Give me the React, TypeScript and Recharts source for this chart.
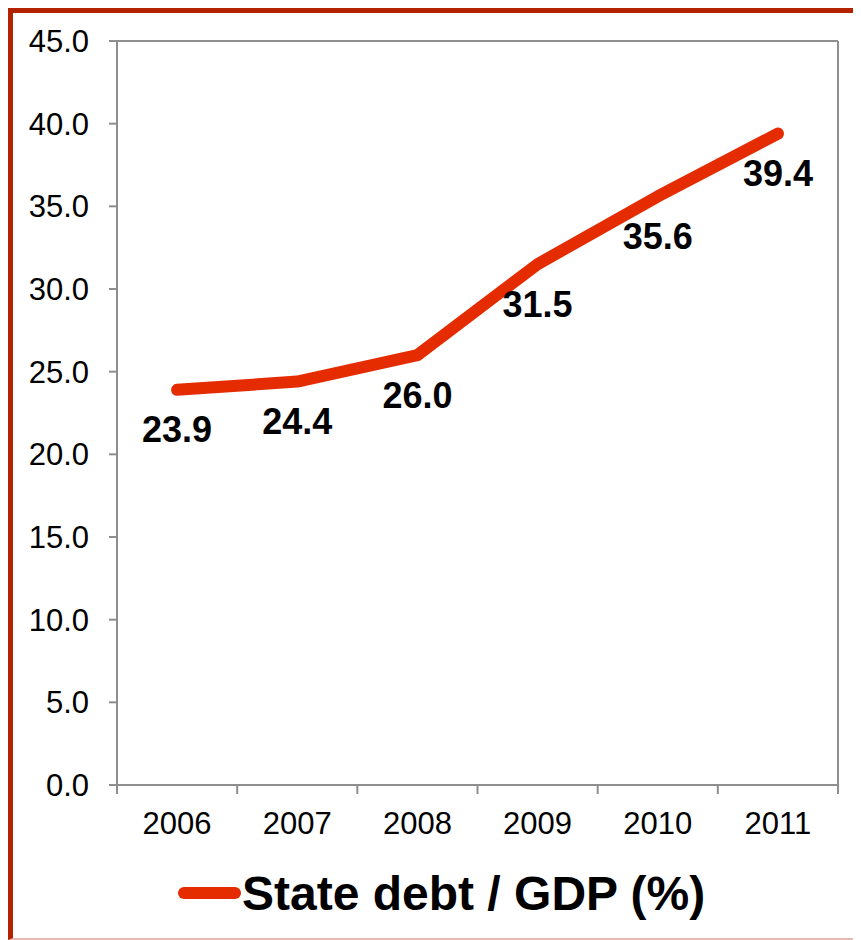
import React from 'react';
import { LineChart, Line, XAxis, YAxis, CartesianGrid, LabelList, Legend } from 'recharts';

const years = ['2006', '2007', '2008', '2009', '2010', '2011'];
const debtToGdp = [23.9, 24.4, 26.0, 31.5, 35.6, 39.4];
const yTicks = [0, 5, 10, 15, 20, 25, 30, 35, 40, 45];
const seriesName = 'State debt / GDP (%)';

const data = years.map((year, i) => ({ year, debt: debtToGdp[i] }));

const GRID = '#8e8e8e';
const LINE = '#e52b00';
const FONT = '"Liberation Sans", Arial, Helvetica, sans-serif';

function XTick(props: any) {
  const { x, y, payload, index, visibleTicksCount } = props;
  const half = payload && typeof payload.offset === 'number' && payload.offset > 0 ? payload.offset : 60;
  const axisY = y - 27;
  return (
    <g>
      <line x1={x - half} x2={x - half} y1={axisY} y2={axisY + 9} stroke={GRID} strokeWidth={2} />
      {index === visibleTicksCount - 1 && (
        <line x1={x + half} x2={x + half} y1={axisY} y2={axisY + 9} stroke={GRID} strokeWidth={2} />
      )}
      <text x={x} y={y} dy="0.71em" textAnchor="middle" fontSize={31} fill="#000" fontFamily={FONT}>
        {payload.value}
      </text>
    </g>
  );
}

function LegendContent() {
  return (
    <div style={{ height: 93, width: 840, position: 'relative', fontFamily: FONT }}>
      <svg width={840} height={93} style={{ position: 'absolute', left: 0, top: 0 }}>
        <line x1={171} x2={222} y1={48} y2={48} stroke={LINE} strokeWidth={12} strokeLinecap="round" />
        <text x={229} y={48} dy="0.355em" fontSize={48} fontWeight="bold" fill="#000" fontFamily={FONT}>
          {seriesName}
        </text>
      </svg>
    </div>
  );
}

export default function App() {
  return (
    <div
      style={{
        width: 853,
        height: 932,
        boxSizing: 'border-box',
        borderTop: '5px solid #b22200',
        borderLeft: '5px solid #b22200',
        borderBottom: '2px solid #e9b9b1',
        background: '#fff',
        fontFamily: FONT,
      }}
    >
      <style>{`body{overflow:hidden}`}</style>
      <LineChart
        width={840}
        height={925}
        data={data}
        margin={{ top: 28, right: 14, bottom: 0, left: 0 }}
        style={{ fontFamily: FONT }}
      >
        <CartesianGrid horizontal vertical={false} stroke={GRID} strokeWidth={2} />
        <XAxis
          dataKey="year"
          type="category"
          scale="band"
          height={60}
          tickSize={0}
          tickMargin={27}
          tickLine={false}
          axisLine={{ stroke: GRID, strokeWidth: 2 }}
          tick={<XTick />}
          interval={0}
        />
        <YAxis
          yAxisId="left"
          width={104}
          domain={[0, 45]}
          ticks={yTicks}
          interval={0}
          tickFormatter={(v: number) => v.toFixed(1)}
          tickSize={8}
          tickMargin={20}
          tickLine={{ stroke: GRID, strokeWidth: 2 }}
          axisLine={{ stroke: GRID, strokeWidth: 2 }}
          tick={{ fontSize: 31, fill: '#000', fontFamily: FONT }}
        />
        <YAxis
          yAxisId="right"
          orientation="right"
          width={1}
          domain={[0, 45]}
          ticks={yTicks}
          tick={false}
          tickLine={false}
          axisLine={{ stroke: GRID, strokeWidth: 2 }}
        />
        <Legend verticalAlign="bottom" align="left" wrapperStyle={{ left: 0, width: 840 }} content={<LegendContent />} />
        <Line
          yAxisId="left"
          type="linear"
          dataKey="debt"
          name={seriesName}
          stroke={LINE}
          strokeWidth={12}
          strokeLinecap="round"
          strokeLinejoin="round"
          dot={false}
          activeDot={false}
          isAnimationActive={false}
        >
          <LabelList
            dataKey="debt"
            position="bottom"
            offset={27}
            formatter={(v: any) => Number(v).toFixed(1)}
            fill="#000"
            fontSize={36}
            fontWeight="bold"
            fontFamily={FONT}
          />
        </Line>
      </LineChart>
    </div>
  );
}
